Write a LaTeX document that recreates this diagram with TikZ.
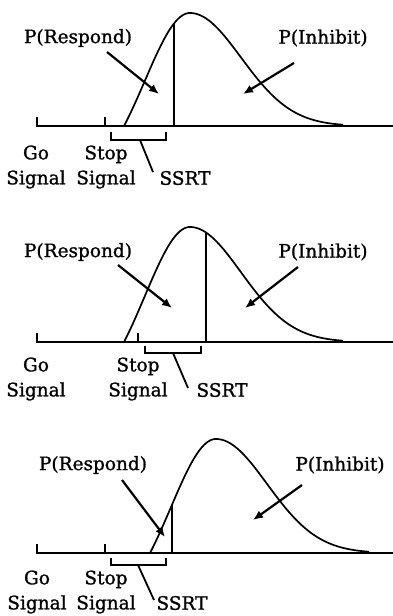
\documentclass[tikz,border=0pt]{standalone}
\usepackage{fontspec}
\setmainfont{DejaVu Serif}[FakeBold=1.2]
\usetikzlibrary{arrows.meta}
\newcommand\skewcurve[3]{%
  \draw[curveline] plot[domain=-66:0,samples=40,smooth] ({#1+\x},{#2-#3*(exp(-(\x/100)*(\x/100)/0.405)-0.3413)/0.6587})
    -- plot[domain=0:153,samples=60,smooth] ({#1+\x},{#2-#3*exp(-(\x/100)*(\x/100)/0.5202)});}
\begin{document}
\begin{tikzpicture}[x=1pt,y=-1pt,
  lbl/.style={font=\fontsize{18.5}{25}\selectfont, inner sep=0pt, align=center},
  axisline/.style={line width=2.3pt},
  curveline/.style={line width=1.7pt},
  vline/.style={line width=2pt},
  brk/.style={line width=1.8pt},
  arr/.style={line width=2.2pt, -{Latex[length=10pt,width=8.5pt]}}]
\useasboundingbox[fill=white] (0,0) rectangle (393,616);

% ---------- Panel 1 ----------
\coordinate (go1) at (37,117);
\coordinate (ax1a) at (37,126);
\coordinate (ax1b) at (393,126);
\coordinate (st1a) at (105,117);
\coordinate (st1b) at (105,126);
\draw[axisline] (go1) -- (ax1a) -- (ax1b);
\draw[axisline] (st1a) -- (st1b);
\skewcurve{190}{126}{113}
\coordinate (v1b) at (174,126);
\coordinate (v1t) at (174,{126-113*(exp(-0.0256/0.405)-0.3413)/0.6587});
\draw[vline] (v1b) -- (v1t);
\coordinate (b1a) at (111,132);
\coordinate (b1b) at (111,140);
\coordinate (b1c) at (166,140);
\coordinate (b1d) at (166,132);
\coordinate (b1m) at (140,140);
\coordinate (b1e) at (153,172);
\draw[brk] (b1a) -- (b1b) -- (b1c) -- (b1d);
\draw[brk] (b1m) -- (b1e);
\node[lbl] (resp1) at (78,38) {P(Respond)};
\node[lbl] (inh1) at (323,38) {P(Inhibit)};
\node[lbl] (gos1) at (36,167) {Go\\Signal};
\node[lbl] (sts1) at (106,167) {Stop\\Signal};
\node[lbl] (ssrt1) at (185,178) {SSRT};
\coordinate (r1s) at (107,52);
\coordinate (r1e) at (159,94);
\coordinate (i1s) at (294,63);
\coordinate (i1e) at (243,94);
\draw[arr] (r1s) -- (r1e);
\draw[arr] (i1s) -- (i1e);

% ---------- Panel 2 ----------
\coordinate (go2) at (37,333);
\coordinate (ax2a) at (37,342);
\coordinate (ax2b) at (393,342);
\coordinate (st2a) at (138,333);
\coordinate (st2b) at (138,342);
\draw[axisline] (go2) -- (ax2a) -- (ax2b);
\draw[axisline] (st2a) -- (st2b);
\skewcurve{190}{342}{115}
\coordinate (v2b) at (206,342);
\coordinate (v2t) at (206,{342-115*exp(-0.0256/0.5202)});
\draw[vline] (v2b) -- (v2t);
\coordinate (b2a) at (145,346);
\coordinate (b2b) at (145,353);
\coordinate (b2c) at (201,353);
\coordinate (b2d) at (201,346);
\coordinate (b2m) at (173,353);
\coordinate (b2e) at (188,388);
\draw[brk] (b2a) -- (b2b) -- (b2c) -- (b2d);
\draw[brk] (b2m) -- (b2e);
\node[lbl] (resp2) at (78,252) {P(Respond)};
\node[lbl] (inh2) at (323,252) {P(Inhibit)};
\node[lbl] (gos2) at (36,379) {Go\\Signal};
\node[lbl] (sts2) at (138,379) {Stop\\Signal};
\node[lbl] (ssrt2) at (222,390) {SSRT};
\coordinate (r2s) at (118,265);
\coordinate (r2e) at (172,308);
\coordinate (i2s) at (298,267);
\coordinate (i2e) at (245,308);
\draw[arr] (r2s) -- (r2e);
\draw[arr] (i2s) -- (i2e);

% ---------- Panel 3 ----------
\coordinate (go3) at (37,544);
\coordinate (ax3a) at (37,553);
\coordinate (ax3b) at (393,553);
\coordinate (st3a) at (105,544);
\coordinate (st3b) at (105,553);
\draw[axisline] (go3) -- (ax3a) -- (ax3b);
\draw[axisline] (st3a) -- (st3b);
\skewcurve{216}{553}{114}
\coordinate (v3b) at (172,553);
\coordinate (v3t) at (172,{553-114*(exp(-0.1936/0.405)-0.3413)/0.6587});
\draw[vline] (v3b) -- (v3t);
\coordinate (b3a) at (111,558);
\coordinate (b3b) at (111,565);
\coordinate (b3c) at (166,565);
\coordinate (b3d) at (166,558);
\coordinate (b3m) at (138,565);
\coordinate (b3e) at (154,600);
\draw[brk] (b3a) -- (b3b) -- (b3c) -- (b3d);
\draw[brk] (b3m) -- (b3e);
\node[lbl] (resp3) at (93,465) {P(Respond)};
\node[lbl] (inh3) at (340,465) {P(Inhibit)};
\node[lbl] (gos3) at (37,592) {Go\\Signal};
\node[lbl] (sts3) at (106,592) {Stop\\Signal};
\node[lbl] (ssrt3) at (182,603) {SSRT};
\coordinate (r3s) at (122,480);
\coordinate (r3e) at (165,537);
\coordinate (i3s) at (302,485);
\coordinate (i3e) at (253,520);
\draw[arr] (r3s) -- (r3e);
\draw[arr] (i3s) -- (i3e);
\end{tikzpicture}
\end{document}
